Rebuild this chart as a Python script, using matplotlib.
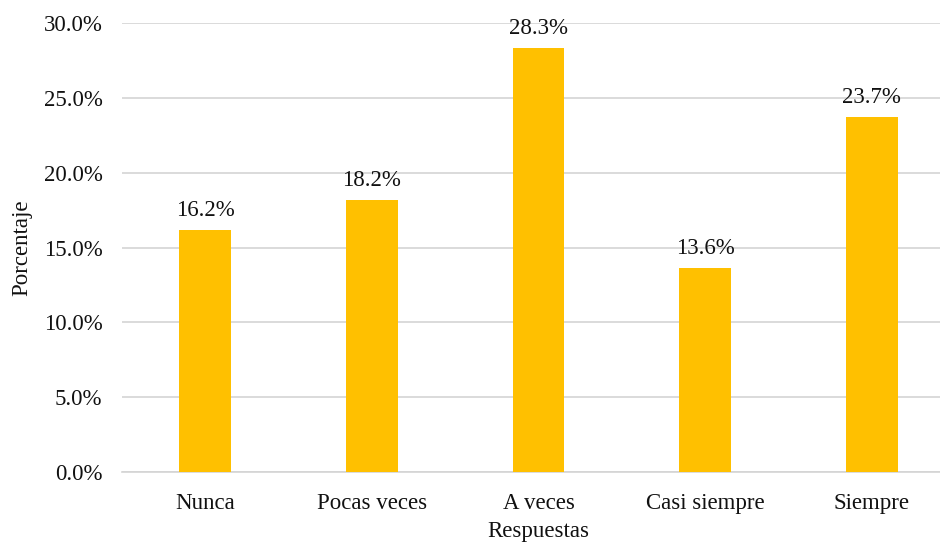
import matplotlib.pyplot as plt
from matplotlib.ticker import PercentFormatter

plt.rcParams['font.family'] = ['Liberation Serif', 'DejaVu Serif']

respuestas = ["Nunca", "Pocas veces", "A veces", "Casi siempre", "Siempre"]
porcentajes = [16.2, 18.2, 28.3, 13.6, 23.7]

fig = plt.figure(figsize=(9.4, 5.44), dpi=100)
ax = fig.add_axes([122 / 940, 1 - 472 / 544, 1 - 122 / 940, (472 - 23) / 544])

x = range(len(respuestas))
bars = ax.bar(x, porcentajes, width=0.31, color="#FFC000", zorder=3)

for b, v in zip(bars, porcentajes):
    ax.text(b.get_x() + b.get_width() / 2, v + 0.6, f"{v:.1f}%",
            ha="center", va="bottom", fontsize=16.5, color="#111111")

ax.set_ylim(0, 30)
ax.set_xlim(-0.5, 4.41)
ax.set_yticks([0, 5, 10, 15, 20, 25, 30])
ax.yaxis.set_major_formatter(PercentFormatter(decimals=1))
ax.set_xticks(list(x))
ax.set_xticklabels(respuestas)
ax.tick_params(axis="both", length=0, labelsize=16.5, colors="#111111")
ax.tick_params(axis="y", pad=14)
ax.tick_params(axis="x", pad=15)

ax.grid(axis="y", color="#d4d4d4", linewidth=1.2, zorder=0)
for s in ["top", "right", "left"]:
    ax.spines[s].set_visible(False)
ax.spines["bottom"].set_color("#d4d4d4")
ax.spines["bottom"].set_linewidth(1.2)

fig.text(22 / 940, 1 - 248 / 544, "Porcentaje", rotation=90, ha="center", va="center",
         fontsize=16.5, color="#111111")
fig.text(538 / 940, 1 - 532 / 544, "Respuestas", ha="center", va="center",
         fontsize=16.5, color="#111111")

fig.savefig("out.png", dpi=100)
